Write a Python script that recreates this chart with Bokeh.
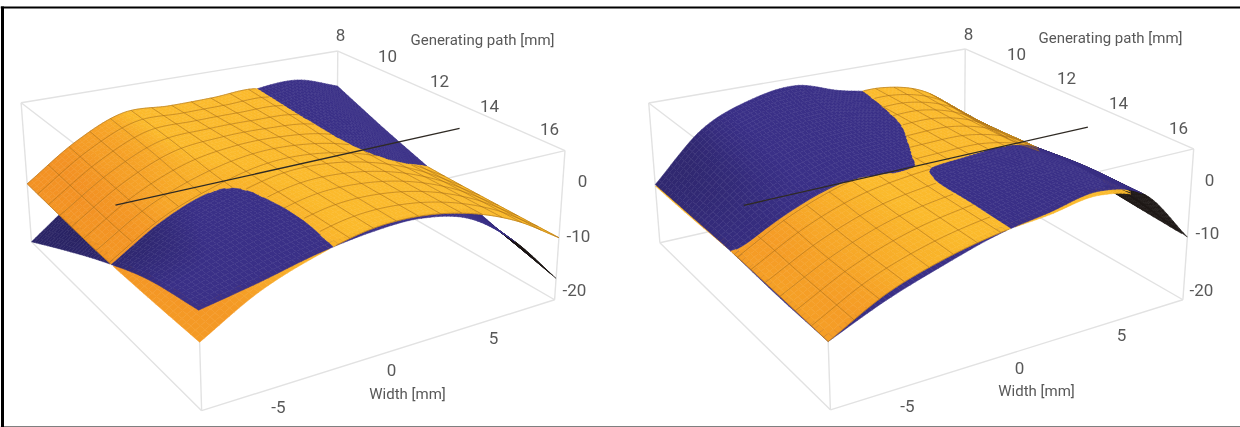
import numpy as np
from bokeh.plotting import figure
from bokeh.models import Range1d
from bokeh.core.properties import value
from bokeh.embed import file_html
from bokeh.resources import INLINE

# ---- data -----------------------------------------------------------------
widths = [-8, -5.7, -3.4, -1.1, 1.1, 3.4, 5.7, 8]      # Width [mm]
paths = [8, 10, 12, 14, 16]                            # Generating path [mm]

# height over (width row, path column)
left_orange = [
    [-10.5, -11.0, -11.4, -11.3, -11.0],
    [-4.2, -5.0, -5.7, -5.7, -5.7],
    [-0.2, -1.0, -2.2, -2.4, -2.4],
    [-0.4, -0.3, -0.2, -0.2, -0.3],
    [-0.3, -0.3, -0.2, -0.2, -0.2],
    [0.0, -0.9, -1.9, -1.9, -1.9],
    [-3.0, -4.5, -5.3, -5.3, -5.3],
    [-8.0, -9.3, -10.0, -10.3, -10.5],
]
left_blue = [
    [-22.0, -17.0, -12.3, -8.3, -6.0],
    [-15.0, -10.0, -6.3, -4.2, -4.2],
    [-9.3, -5.5, -2.7, -1.8, -2.1],
    [-5.0, -2.2, -1.1, -1.0, -0.8],
    [-2.0, -0.9, -0.6, -0.5, -0.6],
    [-0.1, -1.0, -2.1, -2.3, -2.8],
    [0.3, -1.8, -4.8, -7.0, -9.0],
    [-2.5, -6.7, -10.5, -14.5, -18.0],
]
right_orange = [
    [-10.8, -10.7, -10.4, -10.6, -11.0],
    [-11.0, -8.0, -5.5, -5.9, -6.0],
    [-5.0, -3.3, -2.1, -2.6, -3.0],
    [-1.8, -1.2, -0.6, -0.9, -1.1],
    [-0.4, -0.2, -0.1, -0.1, -0.2],
    [0.0, -0.1, -0.2, 0.3, 1.0],
    [-2.4, -2.9, -2.6, -2.2, -1.6],
    [-9.0, -9.3, -8.2, -9.5, -10.5],
]
right_blue = [
    [-10.5, -10.4, -10.4, -10.9, -11.0],
    [-1.7, -3.2, -5.3, -6.2, -7.0],
    [2.2, 0.3, -1.9, -3.0, -3.9],
    [3.5, 1.4, -0.3, -1.05, -1.25],
    [1.0, 0.2, -0.35, 0.4, 0.2],
    [-0.9, -0.9, -0.5, 0.9, 1.7],
    [-3.8, -4.0, -2.75, -1.3, -1.0],
    [-12.0, -10.0, -7.8, -8.3, -10.5],
]

# the straight axis line: width, path, height at its two ends
axis_width = [-7.7, 8.6]
axis_path = [12.4, 12.4]
axis_height = [-1.5, -0.9]

# box limits and where the box corners fall in the picture (the "camera")
box_width = [-8, 8]
box_path = [8, 16]
box_height = [-22, 5]
# order: (w-,p8) (w-,p16) (w+,p16) (w+,p8), base then top
left_camera = [(31, 241), (201, 412), (552, 300), (338, 172),
               (20, 105), (197, 232), (566, 152), (336, 50)]
right_camera = [(659, 242), (830, 411), (1180, 300), (966, 172),
                (648, 105), (825, 232), (1195, 150), (963, 48)]

# texts
left_labels = ["8", "10", "12", "14", "16", "Generating path [mm]", "0", "-10", "-20", "5", "0", "Width [mm]", "-5"]
left_label_size = ["17px", "17px", "17px", "17px", "17px", "15px", "17px", "17px", "17px", "17px", "17px", "15px", "17px"]
left_label_x = [340, 387, 439, 489, 549, 482, 582, 578, 574, 493, 391, 407, 278]
left_label_y = [34, 55, 80, 105, 128, 39, 180, 235, 289, 337, 369, 393, 406]
right_label_x = [968, 1016, 1066, 1118, 1178, 1110, 1209, 1207, 1201, 1121, 1019, 1036, 907]
right_label_y = [33, 53, 77, 102, 127, 37, 179, 232, 289, 334, 367, 390, 405]

# the black frame of the picture
frame_x = [[0, 1240], [2, 2], [0, 1240]]
frame_y = [[7, 7], [6, 427], [426.5, 426.5]]
frame_w = [2.2, 3.0, 1.2]

# ---- styles ---------------------------------------------------------------
YELLOW = np.array([251, 186, 44.0])
ORANGE = np.array([243, 146, 36.0])
BLUE = np.array([58, 48, 135.0])
LEFT_NAVY = np.array([34, 30, 84.0])
RIGHT_NAVY = np.array([48, 40, 112.0])
UNDER = np.array([30, 24, 22.0])
BOX = "#e2e2e2"
MESH = "#a9701c"
TEXT = "#585858"
FONT = "Roboto"


# ---- the 3-D machinery ----------------------------------------------------
def fit_camera(corners):
    w0, w1 = box_width
    p0, p1 = box_path
    z0, z1 = box_height
    world = [(w0, p0, z0), (w0, p1, z0), (w1, p1, z0), (w1, p0, z0),
             (w0, p0, z1), (w0, p1, z1), (w1, p1, z1), (w1, p0, z1)]
    A, b = [], []
    for (X, Y, Z), (x, y) in zip(world, corners):
        A.append([X, Y, Z, 1, 0, 0, 0, 0, -x * X, -x * Y, -x * Z])
        b.append(x)
        A.append([0, 0, 0, 0, X, Y, Z, 1, -y * X, -y * Y, -y * Z])
        b.append(y)
    h = np.linalg.lstsq(np.array(A, float), np.array(b, float), rcond=None)[0]
    return np.append(h, 1.0).reshape(3, 4)


def project(M, w, p, z):
    w, p, z = np.asarray(w, float), np.asarray(p, float), np.asarray(z, float)
    d = M[2, 0] * w + M[2, 1] * p + M[2, 2] * z + M[2, 3]
    return ((M[0, 0] * w + M[0, 1] * p + M[0, 2] * z + M[0, 3]) / d,
            (M[1, 0] * w + M[1, 1] * p + M[1, 2] * z + M[1, 3]) / d)


def catmull(values, s, axis):
    """Smooth curve through the table along one axis at fractional indices s."""
    v = np.moveaxis(np.asarray(values, float), axis, 0)
    g = np.concatenate([[2 * v[0] - v[1]], v, [2 * v[-1] - v[-2]]], axis=0)
    i = np.clip(np.floor(s).astype(int), 0, v.shape[0] - 2)
    t = s - i
    shape = (-1,) + (1,) * (v.ndim - 1)
    t = t.reshape(shape)
    p0, p1, p2, p3 = g[i], g[i + 1], g[i + 2], g[i + 3]
    out = 0.5 * (2 * p1 + (p2 - p0) * t + (2 * p0 - 5 * p1 + 4 * p2 - p3) * t ** 2
                 + (3 * p1 - p0 - 3 * p2 + p3) * t ** 3)
    return np.moveaxis(out, 0, axis)


def surface(table, ws, ps):
    su = np.interp(ws, widths, np.arange(len(widths)))
    sv = np.interp(ps, paths, np.arange(len(paths)))
    return catmull(catmull(table, su, 0), sv, 1)


def hexes(rgb):
    rgb = np.clip(rgb, 0, 255).astype(int)
    return ["#%02x%02x%02x" % tuple(c) for c in rgb]


NU, NV = 84, 48
MW = np.linspace(widths[0], widths[-1], NU + 1)
MP = np.linspace(paths[0], paths[-1], NV + 1)
WW, PP = np.meshgrid(MW, MP, indexing="ij")


def outline(X, Y):
    ox = np.concatenate([X[:, 0], X[-1, 1:], X[-2::-1, -1], X[0, -2:0:-1]])
    oy = np.concatenate([Y[:, 0], Y[-1, 1:], Y[-2::-1, -1], Y[0, -2:0:-1]])
    return ox, oy


def inside(px, py, ox, oy):
    x1, y1 = ox[None, :], oy[None, :]
    x2, y2 = np.roll(ox, -1)[None, :], np.roll(oy, -1)[None, :]
    qx, qy = px.ravel()[:, None], py.ravel()[:, None]
    cond = (y1 > qy) != (y2 > qy)
    with np.errstate(divide="ignore", invalid="ignore"):
        xc = x1 + (qy - y1) * (x2 - x1) / (y2 - y1)
    return (np.sum(cond & (qx < xc), axis=1) % 2 == 1).reshape(px.shape)


def clip_cell(xs, ys, ds):
    ox, oy = [], []
    for k in range(4):
        n = (k + 1) % 4
        if ds[k] >= 0:
            ox.append(xs[k])
            oy.append(ys[k])
        if (ds[k] >= 0) != (ds[n] >= 0):
            t = ds[k] / (ds[k] - ds[n])
            ox.append(xs[k] + t * (xs[n] - xs[k]))
            oy.append(ys[k] + t * (ys[n] - ys[k]))
    return ox, oy


def cells(M, Z, Zother, light, dark, lo, span):
    X, Y = project(M, WW, PP, Z)
    Xo, Yo = project(M, WW, PP, Zother)
    ox, oy = outline(Xo, Yo)
    covered = inside(X, Y, ox, oy)
    _, Yb = project(M, WW, PP, np.full_like(Z, box_height[0]))
    D = Z - Zother
    dzdu = np.gradient(Z, MW, axis=0)
    ax, ay = X[1:, :-1] - X[:-1, :-1], Y[1:, :-1] - Y[:-1, :-1]
    bx, by = X[:-1, 1:] - X[:-1, :-1], Y[:-1, 1:] - Y[:-1, :-1]
    cross = ax * by - ay * bx
    t = np.clip((dzdu[:-1, :-1] - lo) / span, 0, 1)[..., None]
    rgb = light * (1 - t) + dark * t
    rgb[cross < 0] = UNDER
    colours = np.array(hexes(rgb.reshape(-1, 3))).reshape(NU, NV)
    xs, ys, key, col = [], [], [], []
    for i in range(NU):
        for j in range(NV):
            ci, cj = [i, i + 1, i + 1, i], [j, j, j + 1, j + 1]
            dd = D[ci, cj]
            cx, cy = X[ci, cj], Y[ci, cj]
            if (dd < 0).all():
                if covered[ci, cj].all():
                    continue
                px, py = list(cx), list(cy)
            elif (dd >= 0).all():
                px, py = list(cx), list(cy)
            else:
                px, py = clip_cell(cx, cy, dd)
            yb = Yb[ci, cj].mean()
            key.append(yb * 1.2 + (yb - cy.mean()) * 0.83)
            xs.append(px)
            ys.append(py)
            col.append(str(colours[i, j]))
    return xs, ys, key, col


def point_height(table, ww, pp):
    su = np.interp(ww, widths, np.arange(len(widths)))
    sv = np.interp(pp, paths, np.arange(len(paths)))
    res = []
    for a, b in zip(su, sv):
        res.append(catmull(catmull(table, np.array([a]), 0), np.array([b]), 1)[0, 0])
    return np.array(res)


def add_mesh(M, top, other, ww, pp, xs, ys):
    zt = point_height(top, ww, pp)
    zo = point_height(other, ww, pp)
    X, Y = project(M, ww, pp, zt)
    vis = zt >= zo
    start = None
    for i, v in enumerate(list(vis) + [False]):
        if v and start is None:
            start = i
        if not v and start is not None:
            if i - start > 1:
                xs.append(list(X[start:i]))
                ys.append(list(Y[start:i]))
            start = None


def mesh_lines(M, top, other):
    xs, ys = [], []
    fine = 70
    for w in np.linspace(widths[0], widths[-1], 17):
        pp = np.linspace(paths[0], paths[-1], fine)
        add_mesh(M, top, other, np.full_like(pp, w), pp, xs, ys)
    for q in np.linspace(paths[0], paths[-1], 14):
        ww = np.linspace(widths[0], widths[-1], fine * 2)
        add_mesh(M, top, other, ww, np.full_like(ww, q), xs, ys)
    return xs, ys


p = figure(width=1240, height=427, output_backend="svg", toolbar_location=None,
           x_range=Range1d(0, 1240), y_range=Range1d(427, 0),
           min_border=0, outline_line_color=None, background_fill_color="white",
           border_fill_color="white")
p.axis.visible = False
p.grid.visible = False
p.styles = {"position": "fixed", "left": "0px", "top": "0px"}


def draw_panel(camera, orange, blue, navy, label_x, label_y):
    M = fit_camera(camera)
    w0, w1 = box_width
    p0, p1 = box_path
    z0, z1 = box_height
    c = [(w0, p0), (w0, p1), (w1, p1), (w1, p0)]
    bx, by = [], []
    for k in range(4):
        a, b = c[k], c[(k + 1) % 4]
        for z in (z0, z1):
            X, Y = project(M, [a[0], b[0]], [a[1], b[1]], [z, z])
            bx.append(list(X))
            by.append(list(Y))
        X, Y = project(M, [a[0], a[0]], [a[1], a[1]], [z0, z1])
        bx.append(list(X))
        by.append(list(Y))
    p.multi_line(bx, by, line_color=BOX, line_width=1.4)

    Zo = surface(orange, MW, MP)
    Zb = surface(blue, MW, MP)
    ox, oy, ok, oc = cells(M, Zo, Zb, YELLOW, ORANGE, 0.8, 2.0)
    nx, ny, nk, nc = cells(M, Zb, Zo, BLUE, navy, 1.5, 2.5)
    xs, ys, keys, cols = ox + nx, oy + ny, ok + nk, oc + nc
    order = np.argsort(keys, kind="stable")
    p.patches([xs[i] for i in order], [ys[i] for i in order],
              fill_color=[cols[i] for i in order],
              line_color=[cols[i] for i in order], line_width=0.5)

    mx, my = mesh_lines(M, orange, blue)
    p.multi_line(mx, my, line_color=MESH, line_width=0.8, line_alpha=0.75)

    ax, ay = project(M, axis_width, axis_path, axis_height)
    p.line(list(ax), list(ay), line_color="#2f2a24", line_width=1.3)

    p.text(label_x, label_y, text=left_labels, text_font=value(FONT),
           text_font_size=left_label_size, text_color=TEXT, text_align="center",
           text_baseline="middle")


draw_panel(left_camera, left_orange, left_blue, LEFT_NAVY, left_label_x, left_label_y)
draw_panel(right_camera, right_orange, right_blue, RIGHT_NAVY, right_label_x, right_label_y)

for fx, fy, fw in zip(frame_x, frame_y, frame_w):
    p.line(fx, fy, line_color="black", line_width=fw)

open("out.html", "w").write(file_html(p, INLINE))
